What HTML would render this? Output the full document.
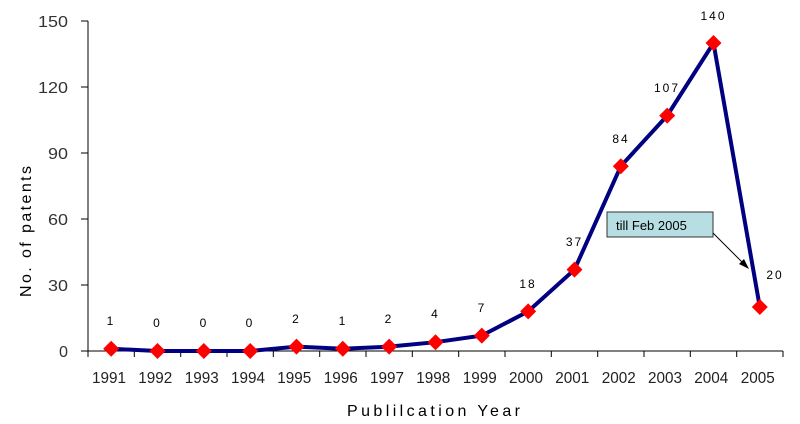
<!DOCTYPE html>
<html><head><meta charset="utf-8"><style>body{margin:0;background:#fff}svg{display:block}</style></head><body>
<svg width="800" height="424" xmlns="http://www.w3.org/2000/svg" font-family="Liberation Sans, sans-serif">
<g stroke="#000" stroke-width="1">
<line x1="88" y1="21" x2="88" y2="357"/>
<line x1="88" y1="351" x2="783" y2="351"/>
<line x1="81" y1="21" x2="88" y2="21"/><line x1="81" y1="87" x2="88" y2="87"/><line x1="81" y1="153" x2="88" y2="153"/><line x1="81" y1="219" x2="88" y2="219"/><line x1="81" y1="285" x2="88" y2="285"/><line x1="81" y1="351" x2="88" y2="351"/>
<line x1="134.3" y1="351" x2="134.3" y2="357"/><line x1="180.7" y1="351" x2="180.7" y2="357"/><line x1="227" y1="351" x2="227" y2="357"/><line x1="273.3" y1="351" x2="273.3" y2="357"/><line x1="319.7" y1="351" x2="319.7" y2="357"/><line x1="366" y1="351" x2="366" y2="357"/><line x1="412.3" y1="351" x2="412.3" y2="357"/><line x1="458.7" y1="351" x2="458.7" y2="357"/><line x1="505" y1="351" x2="505" y2="357"/><line x1="551.3" y1="351" x2="551.3" y2="357"/><line x1="597.7" y1="351" x2="597.7" y2="357"/><line x1="644" y1="351" x2="644" y2="357"/><line x1="690.3" y1="351" x2="690.3" y2="357"/><line x1="736.7" y1="351" x2="736.7" y2="357"/><line x1="783" y1="351" x2="783" y2="357"/>
</g>
<g font-size="16" fill="#333">
<text x="38" y="27" textLength="30" lengthAdjust="spacingAndGlyphs">150</text>
<text x="38" y="93" textLength="30" lengthAdjust="spacingAndGlyphs">120</text>
<text x="48" y="159" textLength="20" lengthAdjust="spacingAndGlyphs">90</text>
<text x="48" y="225" textLength="20" lengthAdjust="spacingAndGlyphs">60</text>
<text x="48" y="291" textLength="20" lengthAdjust="spacingAndGlyphs">30</text>
<text x="59" y="357" textLength="9" lengthAdjust="spacingAndGlyphs">0</text>
</g>
<text transform="translate(31,297) rotate(-90)" font-size="16" textLength="134" lengthAdjust="spacing" letter-spacing="3">No. of patents</text>
<text x="347" y="416" font-size="16" textLength="173" lengthAdjust="spacing">Publilcation Year</text>
<polyline points="111.2,348.8 157.5,351 203.8,351 250.2,351 296.5,346.6 342.8,348.8 389.2,346.6 435.5,342.2 481.8,335.6 528.2,311.4 574.5,269.6 620.8,166.2 667.2,115.6 713.5,43 759.8,307" fill="none" stroke="#000080" stroke-width="4"/>
<g fill="#ff0000">
<polygon points="111.2,340.8 119.2,348.8 111.2,356.8 103.2,348.8"/>
<polygon points="157.5,343 165.5,351 157.5,359 149.5,351"/>
<polygon points="203.8,343 211.8,351 203.8,359 195.8,351"/>
<polygon points="250.2,343 258.2,351 250.2,359 242.2,351"/>
<polygon points="296.5,338.6 304.5,346.6 296.5,354.6 288.5,346.6"/>
<polygon points="342.8,340.8 350.8,348.8 342.8,356.8 334.8,348.8"/>
<polygon points="389.2,338.6 397.2,346.6 389.2,354.6 381.2,346.6"/>
<polygon points="435.5,334.2 443.5,342.2 435.5,350.2 427.5,342.2"/>
<polygon points="481.8,327.6 489.8,335.6 481.8,343.6 473.8,335.6"/>
<polygon points="528.2,303.4 536.2,311.4 528.2,319.4 520.2,311.4"/>
<polygon points="574.5,261.6 582.5,269.6 574.5,277.6 566.5,269.6"/>
<polygon points="620.8,158.2 628.8,166.2 620.8,174.2 612.8,166.2"/>
<polygon points="667.2,107.6 675.2,115.6 667.2,123.6 659.2,115.6"/>
<polygon points="713.5,35 721.5,43 713.5,51 705.5,43"/>
<polygon points="759.8,299 767.8,307 759.8,315 751.8,307"/>
</g>
<g font-size="12" text-anchor="middle" letter-spacing="2">
<text x="111" y="325">1</text><text x="157.5" y="327">0</text><text x="204" y="327">0</text><text x="250" y="327">0</text><text x="296.5" y="323">2</text><text x="343" y="325">1</text><text x="389" y="323">2</text><text x="435.5" y="318">4</text><text x="482" y="312">7</text><text x="528" y="288">18</text><text x="574.5" y="246">37</text><text x="621" y="143">84</text><text x="667" y="92">107</text><text x="713.5" y="20">140</text><text x="775" y="279">20</text>
</g>
<g font-size="16" fill="#222">
<text x="92" y="383" textLength="34" lengthAdjust="spacingAndGlyphs">1991</text>
<text x="138.3" y="383" textLength="34" lengthAdjust="spacingAndGlyphs">1992</text>
<text x="184.7" y="383" textLength="34" lengthAdjust="spacingAndGlyphs">1993</text>
<text x="231" y="383" textLength="34" lengthAdjust="spacingAndGlyphs">1994</text>
<text x="277.3" y="383" textLength="34" lengthAdjust="spacingAndGlyphs">1995</text>
<text x="323.7" y="383" textLength="34" lengthAdjust="spacingAndGlyphs">1996</text>
<text x="370" y="383" textLength="34" lengthAdjust="spacingAndGlyphs">1997</text>
<text x="416.3" y="383" textLength="34" lengthAdjust="spacingAndGlyphs">1998</text>
<text x="462.7" y="383" textLength="34" lengthAdjust="spacingAndGlyphs">1999</text>
<text x="509" y="383" textLength="34" lengthAdjust="spacingAndGlyphs">2000</text>
<text x="555.3" y="383" textLength="34" lengthAdjust="spacingAndGlyphs">2001</text>
<text x="601.7" y="383" textLength="34" lengthAdjust="spacingAndGlyphs">2002</text>
<text x="648" y="383" textLength="34" lengthAdjust="spacingAndGlyphs">2003</text>
<text x="694.3" y="383" textLength="34" lengthAdjust="spacingAndGlyphs">2004</text>
<text x="740.7" y="383" textLength="34" lengthAdjust="spacingAndGlyphs">2005</text>
</g>
<rect x="607" y="212" width="106" height="25" fill="#b7dfe3" stroke="#333"/>
<text x="616" y="230" font-size="13">till Feb 2005</text>
<line x1="713" y1="233" x2="745" y2="265" stroke="#000"/>
<polygon points="749,269 739,264 744,259" fill="#000"/>
</svg>
</body></html>
